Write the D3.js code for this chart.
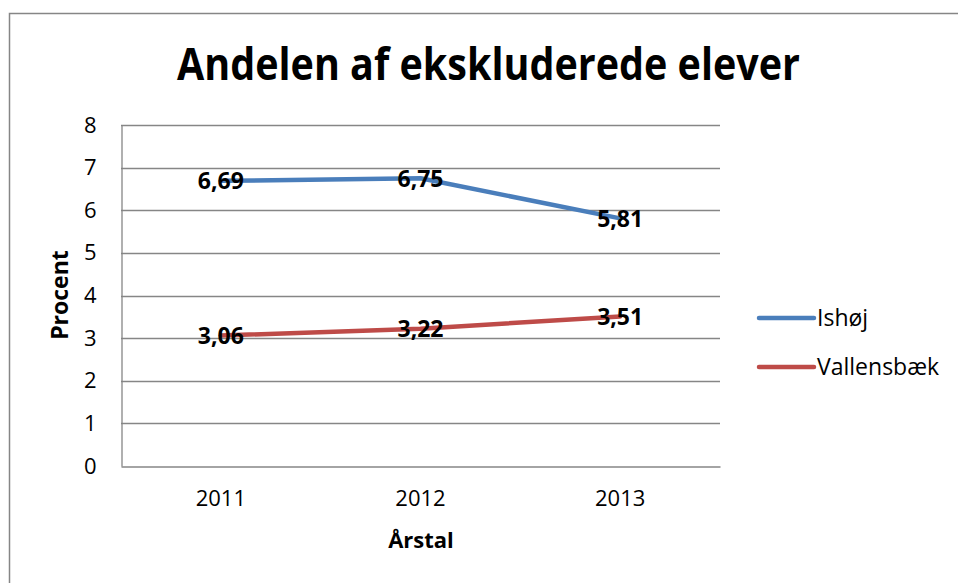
<!DOCTYPE html>
<html>
<head>
<meta charset="utf-8">
<script src="https://cdn.jsdelivr.net/npm/d3@7"></script>
<style>
  body { margin: 0; background: #fff; }
  text { font-family: "Open Sans", sans-serif; fill: #000; }
</style>
</head>
<body>
<svg id="chart" width="958" height="583"></svg>
<script>
// data
var years = ['2011', '2012', '2013'];
var ishoj = [6.69, 6.75, 5.81];
var vallensbaek = [3.06, 3.22, 3.51];
var seriesNames = ['Ishøj', 'Vallensbæk'];
var seriesColors = ['#4a7ebb', '#be4b48'];
var yTicks = [0, 1, 2, 3, 4, 5, 6, 7, 8];

var svg = d3.select('#chart');

// outer chart frame (right/bottom edges fall outside the picture)
svg.append('rect')
  .attr('x', 9.5).attr('y', 13.5)
  .attr('width', 980).attr('height', 600)
  .attr('fill', 'none')
  .attr('stroke', '#868686')
  .attr('stroke-width', 1.5);

var plot = { left: 121, right: 720, top: 125, bottom: 466 };

var x = d3.scaleBand()
  .domain(years)
  .range([plot.left, plot.right]);

var y = d3.scaleLinear()
  .domain([0, 8])
  .range([plot.bottom, plot.top]);

// fit a text element to a wanted width by changing its font size
var fitWidth = function (sel, width) {
  var node = sel.node();
  var size = parseFloat(sel.attr('font-size'));
  var w = node.getComputedTextLength();
  sel.attr('font-size', size * width / w);
};

// title, stretched a little in height to get closer to the Calibri look
var title = svg.append('text')
  .attr('transform', 'translate(488.5,80) scale(1,1.15)')
  .attr('text-anchor', 'middle')
  .attr('font-weight', 'bold')
  .attr('font-size', 40)
  .text('Andelen af ekskluderede elever');
fitWidth(title, 623);

// gridlines
svg.append('g')
  .selectAll('line')
  .data(yTicks.filter(function (d) { return d > 0; }))
  .join('line')
  .attr('x1', plot.left).attr('x2', plot.right)
  .attr('y1', function (d) { return Math.round(y(d)) + 0.5; })
  .attr('y2', function (d) { return Math.round(y(d)) + 0.5; })
  .attr('stroke', '#868686')
  .attr('stroke-width', 1.3);

// y axis
var yAxis = svg.append('g')
  .attr('transform', 'translate(' + (plot.left + 0.5) + ',0)')
  .call(d3.axisLeft(y).tickValues(yTicks).tickSize(0).tickPadding(25));
yAxis.select('.domain').attr('stroke', '#868686').attr('stroke-width', 1.3);
yAxis.selectAll('text')
  .style('font-family', '"Open Sans", sans-serif')
  .attr('font-size', 22)
  .attr('fill', '#000');

// x axis
var xAxis = svg.append('g')
  .attr('transform', 'translate(0,' + (plot.bottom + 0.5) + ')')
  .call(d3.axisBottom(x).tickSize(0).tickPadding(24));
xAxis.select('.domain').attr('stroke', '#868686').attr('stroke-width', 1.3);
xAxis.selectAll('text')
  .style('font-family', '"Open Sans", sans-serif')
  .attr('font-size', 22)
  .attr('fill', '#000');

// axis titles
svg.append('text')
  .attr('x', 421)
  .attr('y', 548)
  .attr('text-anchor', 'middle')
  .attr('font-weight', 'bold')
  .attr('font-size', 22)
  .text('Årstal');

svg.append('text')
  .attr('transform', 'translate(68,295) rotate(-90)')
  .attr('text-anchor', 'middle')
  .attr('font-weight', 'bold')
  .attr('font-size', 23)
  .text('Procent');

// lines
var line = d3.line()
  .x(function (d, i) { return x(years[i]) + x.bandwidth() / 2; })
  .y(function (d) { return y(d); });

var series = [ishoj, vallensbaek];

svg.append('g')
  .selectAll('path')
  .data(series)
  .join('path')
  .attr('d', line)
  .attr('fill', 'none')
  .attr('stroke', function (d, i) { return seriesColors[i]; })
  .attr('stroke-width', 4.5)
  .attr('stroke-linejoin', 'round')
  .attr('stroke-linecap', 'round');

// data labels, centred on the points
series.forEach(function (vals) {
  svg.append('g')
    .selectAll('text')
    .data(vals)
    .join('text')
    .attr('x', function (d, i) { return x(years[i]) + x.bandwidth() / 2; })
    .attr('y', function (d) { return y(d); })
    .attr('dy', '0.36em')
    .attr('text-anchor', 'middle')
    .attr('font-weight', 'bold')
    .attr('font-size', 23)
    .text(function (d) { return d3.format('.2f')(d).replace('.', ','); });
});

// legend
var legend = svg.append('g')
  .selectAll('g')
  .data(seriesNames)
  .join('g')
  .attr('transform', function (d, i) { return 'translate(758,' + (318 + i * 49) + ')'; });

legend.append('line')
  .attr('x1', 1).attr('x2', 56)
  .attr('stroke', function (d, i) { return seriesColors[i]; })
  .attr('stroke-width', 4.5)
  .attr('stroke-linecap', 'round');

legend.append('text')
  .attr('x', 59)
  .attr('dy', '0.36em')
  .attr('font-size', 23)
  .text(function (d) { return d; });
</script>
</body>
</html>
